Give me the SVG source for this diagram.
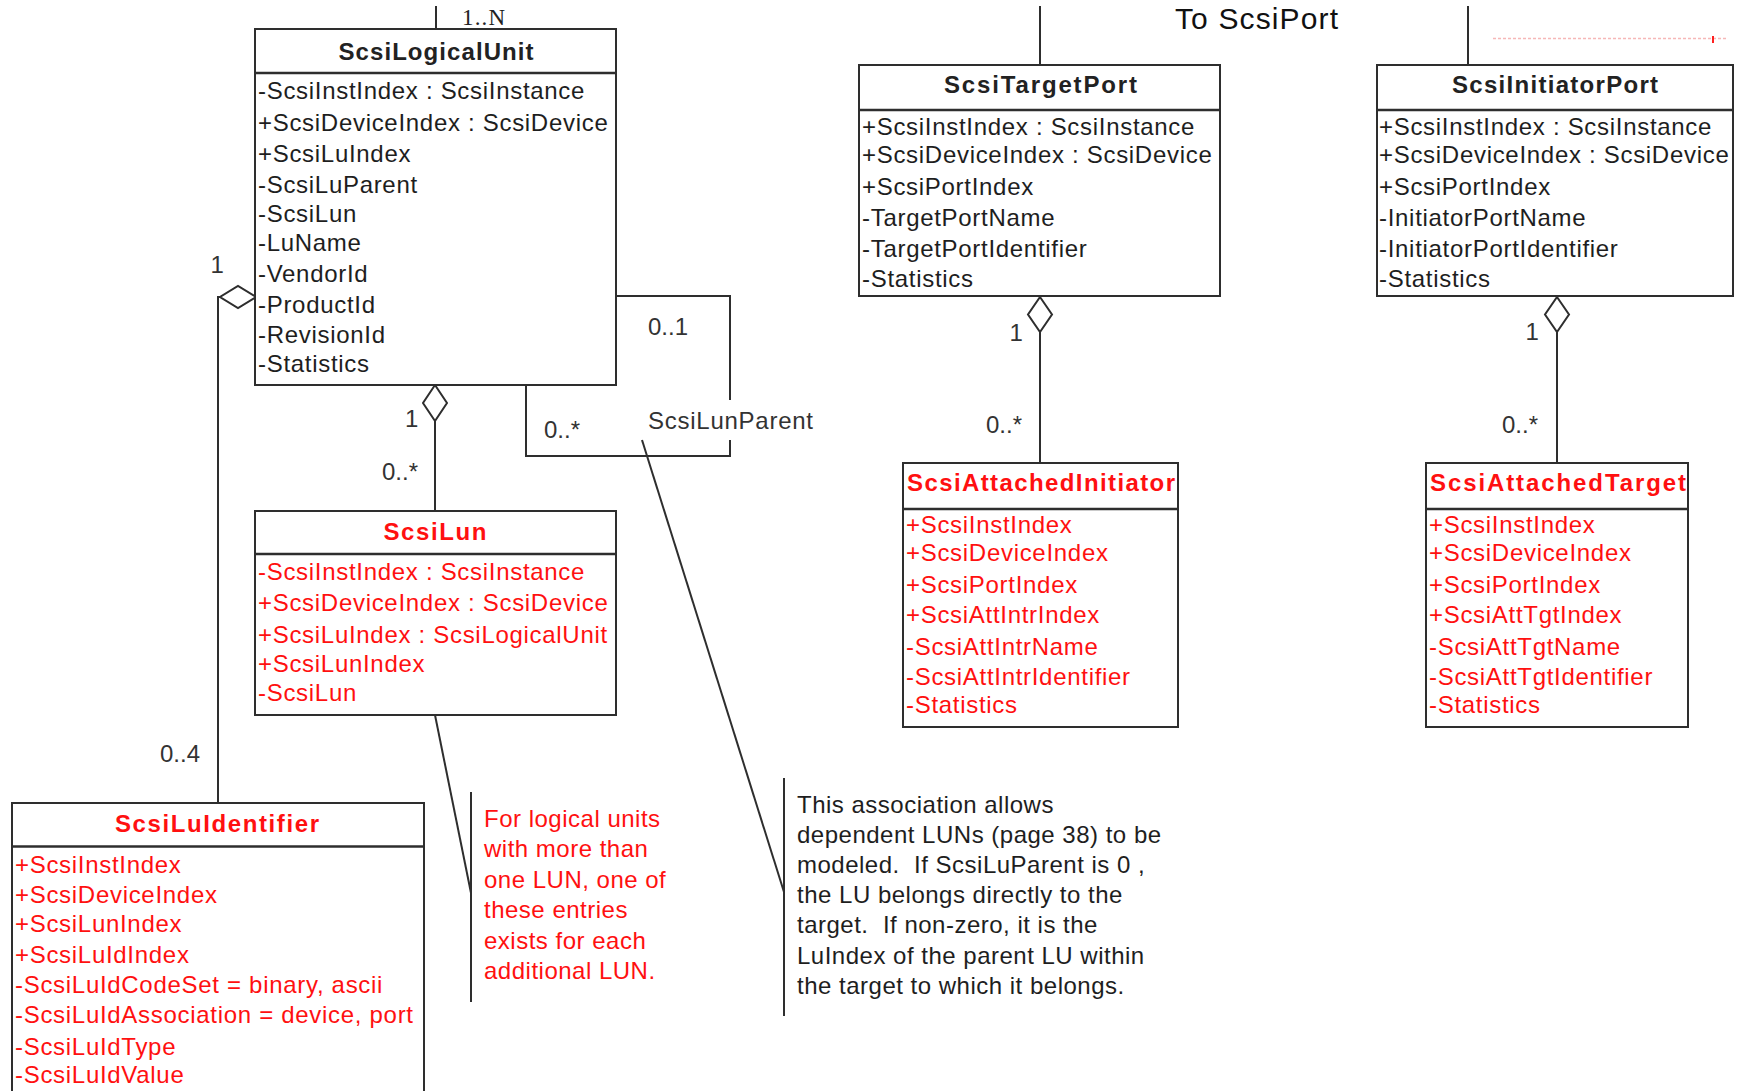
<svg xmlns="http://www.w3.org/2000/svg" width="1750" height="1091" viewBox="0 0 1750 1091">
<style>
.bg{fill:#fff}
.box{fill:#fff;stroke:#2e2e2e;stroke-width:2}
.hdr{stroke:#2e2e2e;stroke-width:2.5}
.t{font-family:"Liberation Sans",Arial,sans-serif;font-size:24px;letter-spacing:0.7px;fill:#1e1e1e}
.ti{font-family:"Liberation Sans",Arial,sans-serif;font-size:24px;font-weight:bold;fill:#222;text-anchor:middle}
.lbl{font-family:"Liberation Sans",Arial,sans-serif;font-size:24px;fill:#333}
.note{font-family:"Liberation Sans",Arial,sans-serif;font-size:24px;letter-spacing:0.5px;fill:#1e1e1e}
.conn{stroke:#2e2e2e;stroke-width:2;fill:none}
.dia{fill:#fff;stroke:#2e2e2e;stroke-width:2}
text.r{fill:#ff1010}
</style>
<rect class="bg" x="0" y="0" width="1750" height="1091"/>

<g id="connectors">
  <!-- top stubs -->
  <line class="conn" x1="436" y1="6" x2="436" y2="29"/>
  <line class="conn" x1="1040" y1="6" x2="1040" y2="65"/>
  <line class="conn" x1="1468" y1="6" x2="1468" y2="65"/>
  <!-- LogicalUnit to LuIdentifier -->
  <path class="conn" d="M221,297 L218,297 L218,803"/>
  <polygon class="dia" points="256,297 238,286 220,297 238,308"/>
  <!-- LogicalUnit to Lun -->
  <line class="conn" x1="435" y1="421" x2="435" y2="511"/>
  <polygon class="dia" points="435,385 447,403 435,421 423,403"/>
  <!-- self association ScsiLunParent -->
  <path class="conn" d="M616,296 L730,296 L730,400"/>
  <path class="conn" d="M730,440 L730,456 L526,456 L526,385"/>
  <!-- TargetPort to AttachedInitiator -->
  <line class="conn" x1="1040" y1="332" x2="1040" y2="463"/>
  <polygon class="dia" points="1040,297 1052,314.5 1040,332 1028,314.5"/>
  <!-- InitiatorPort to AttachedTarget -->
  <line class="conn" x1="1557" y1="332" x2="1557" y2="463"/>
  <polygon class="dia" points="1557,297 1569,314.5 1557,332 1545,314.5"/>
  <!-- note anchors -->
  <line class="conn" x1="435" y1="715" x2="471" y2="893"/>
  <line class="conn" x1="642" y1="440" x2="784" y2="892"/>
  <!-- faint artifact line -->
  <line x1="1493" y1="38.5" x2="1728" y2="38.5" stroke="#f6b8b8" stroke-width="1.5" stroke-dasharray="3 2"/>
  <line x1="1713" y1="36" x2="1713" y2="43" stroke="#ff2020" stroke-width="2"/>
</g>

<g id="labels">
  <text x="462" y="25" font-family="'Liberation Serif',serif" font-size="23" fill="#222" textLength="43" lengthAdjust="spacing">1..N</text>
  <text x="1175" y="29" font-family="'Liberation Sans',Arial,sans-serif" font-size="30" fill="#111" textLength="163" lengthAdjust="spacing">To ScsiPort</text>
  <text class="lbl" x="210.5" y="273">1</text>
  <text class="lbl" x="160" y="762">0..4</text>
  <text class="lbl" x="405" y="427">1</text>
  <text class="lbl" x="382" y="480">0..*</text>
  <text class="lbl" x="648" y="335">0..1</text>
  <text class="lbl" x="544" y="438">0..*</text>
  <text class="lbl" x="648" y="429" textLength="165" lengthAdjust="spacing">ScsiLunParent</text>
  <text class="lbl" x="1009.5" y="341">1</text>
  <text class="lbl" x="986" y="433">0..*</text>
  <text class="lbl" x="1525.5" y="340">1</text>
  <text class="lbl" x="1502" y="433">0..*</text>
</g>

<g id="ScsiLogicalUnit">
  <rect class="box" x="255" y="29" width="361" height="356"/>
  <line class="hdr" x1="255" y1="73" x2="616" y2="73"/>
  <text class="ti" x="436" y="60" textLength="195" lengthAdjust="spacing">ScsiLogicalUnit</text>
  <text class="t" x="258" y="99">-ScsiInstIndex : ScsiInstance</text>
  <text class="t" x="258" y="130.5">+ScsiDeviceIndex : ScsiDevice</text>
  <text class="t" x="258" y="161.5">+ScsiLuIndex</text>
  <text class="t" x="258" y="192.5">-ScsiLuParent</text>
  <text class="t" x="258" y="221.5">-ScsiLun</text>
  <text class="t" x="258" y="250.5">-LuName</text>
  <text class="t" x="258" y="282">-VendorId</text>
  <text class="t" x="258" y="312.5">-ProductId</text>
  <text class="t" x="258" y="342.5">-RevisionId</text>
  <text class="t" x="258" y="372">-Statistics</text>
</g>

<g id="ScsiLun">
  <rect class="box" x="255" y="511" width="361" height="204"/>
  <line class="hdr" x1="255" y1="554" x2="616" y2="554"/>
  <text class="ti r" x="435" y="540" textLength="103" lengthAdjust="spacing">ScsiLun</text>
  <text class="t r" x="258" y="580">-ScsiInstIndex : ScsiInstance</text>
  <text class="t r" x="258" y="610.5">+ScsiDeviceIndex : ScsiDevice</text>
  <text class="t r" x="258" y="642.5">+ScsiLuIndex : ScsiLogicalUnit</text>
  <text class="t r" x="258" y="672">+ScsiLunIndex</text>
  <text class="t r" x="258" y="700.5">-ScsiLun</text>
</g>

<g id="ScsiLuIdentifier">
  <rect class="box" x="12" y="803" width="412" height="300"/>
  <line class="hdr" x1="12" y1="846.5" x2="424" y2="846.5"/>
  <text class="ti r" x="217" y="832" textLength="204" lengthAdjust="spacing">ScsiLuIdentifier</text>
  <text class="t r" x="15" y="873">+ScsiInstIndex</text>
  <text class="t r" x="15" y="903">+ScsiDeviceIndex</text>
  <text class="t r" x="15" y="931.5">+ScsiLunIndex</text>
  <text class="t r" x="15" y="962.5">+ScsiLuIdIndex</text>
  <text class="t r" x="15" y="993">-ScsiLuIdCodeSet = binary, ascii</text>
  <text class="t r" x="15" y="1023">-ScsiLuIdAssociation = device, port</text>
  <text class="t r" x="15" y="1055">-ScsiLuIdType</text>
  <text class="t r" x="15" y="1083">-ScsiLuIdValue</text>
</g>

<g id="ScsiTargetPort">
  <rect class="box" x="859" y="65" width="361" height="231"/>
  <line class="hdr" x1="859" y1="110" x2="1220" y2="110"/>
  <text class="ti" x="1040.5" y="93" textLength="193" lengthAdjust="spacing">ScsiTargetPort</text>
  <text class="t" x="862" y="134.5">+ScsiInstIndex : ScsiInstance</text>
  <text class="t" x="862" y="163">+ScsiDeviceIndex : ScsiDevice</text>
  <text class="t" x="862" y="194.5">+ScsiPortIndex</text>
  <text class="t" x="862" y="225.5">-TargetPortName</text>
  <text class="t" x="862" y="256.5">-TargetPortIdentifier</text>
  <text class="t" x="862" y="287">-Statistics</text>
</g>

<g id="ScsiInitiatorPort">
  <rect class="box" x="1377" y="65" width="356" height="231"/>
  <line class="hdr" x1="1377" y1="110" x2="1733" y2="110"/>
  <text class="ti" x="1555" y="93" textLength="206" lengthAdjust="spacing">ScsiInitiatorPort</text>
  <text class="t" x="1379" y="134.5">+ScsiInstIndex : ScsiInstance</text>
  <text class="t" x="1379" y="163">+ScsiDeviceIndex : ScsiDevice</text>
  <text class="t" x="1379" y="194.5">+ScsiPortIndex</text>
  <text class="t" x="1379" y="225.5">-InitiatorPortName</text>
  <text class="t" x="1379" y="256.5">-InitiatorPortIdentifier</text>
  <text class="t" x="1379" y="287">-Statistics</text>
</g>

<g id="ScsiAttachedInitiator">
  <rect class="box" x="903" y="463" width="275" height="264"/>
  <line class="hdr" x1="903" y1="509" x2="1178" y2="509"/>
  <text class="ti r" x="1041" y="491" textLength="268" lengthAdjust="spacing">ScsiAttachedInitiator</text>
  <text class="t r" x="906" y="533">+ScsiInstIndex</text>
  <text class="t r" x="906" y="561">+ScsiDeviceIndex</text>
  <text class="t r" x="906" y="592.5">+ScsiPortIndex</text>
  <text class="t r" x="906" y="623">+ScsiAttIntrIndex</text>
  <text class="t r" x="906" y="654.5">-ScsiAttIntrName</text>
  <text class="t r" x="906" y="684.5">-ScsiAttIntrIdentifier</text>
  <text class="t r" x="906" y="713">-Statistics</text>
</g>

<g id="ScsiAttachedTarget">
  <rect class="box" x="1426" y="463" width="262" height="264"/>
  <line class="hdr" x1="1426" y1="509" x2="1688" y2="509"/>
  <text class="ti r" x="1558" y="491" textLength="256" lengthAdjust="spacing">ScsiAttachedTarget</text>
  <text class="t r" x="1429" y="533">+ScsiInstIndex</text>
  <text class="t r" x="1429" y="561">+ScsiDeviceIndex</text>
  <text class="t r" x="1429" y="592.5">+ScsiPortIndex</text>
  <text class="t r" x="1429" y="623">+ScsiAttTgtIndex</text>
  <text class="t r" x="1429" y="654.5">-ScsiAttTgtName</text>
  <text class="t r" x="1429" y="684.5">-ScsiAttTgtIdentifier</text>
  <text class="t r" x="1429" y="713">-Statistics</text>
</g>

<g id="note-lun">
  <line class="conn" x1="471" y1="792" x2="471" y2="1002"/>
  <text class="note r" x="484" y="827">For logical units</text>
  <text class="note r" x="484" y="857">with more than</text>
  <text class="note r" x="484" y="888">one LUN, one of</text>
  <text class="note r" x="484" y="918">these entries</text>
  <text class="note r" x="484" y="948.5">exists for each</text>
  <text class="note r" x="484" y="978.5">additional LUN.</text>
</g>

<g id="note-parent">
  <line class="conn" x1="784" y1="778" x2="784" y2="1016"/>
  <text class="note" x="797" y="812.5">This association allows</text>
  <text class="note" x="797" y="842.5">dependent LUNs (page 38) to be</text>
  <text class="note" x="797" y="872.5" xml:space="preserve">modeled.  If ScsiLuParent is 0 ,</text>
  <text class="note" x="797" y="902.5">the LU belongs directly to the</text>
  <text class="note" x="797" y="932.5" xml:space="preserve">target.  If non-zero, it is the</text>
  <text class="note" x="797" y="963.5">LuIndex of the parent LU within</text>
  <text class="note" x="797" y="993.5">the target to which it belongs.</text>
</g>
</svg>
